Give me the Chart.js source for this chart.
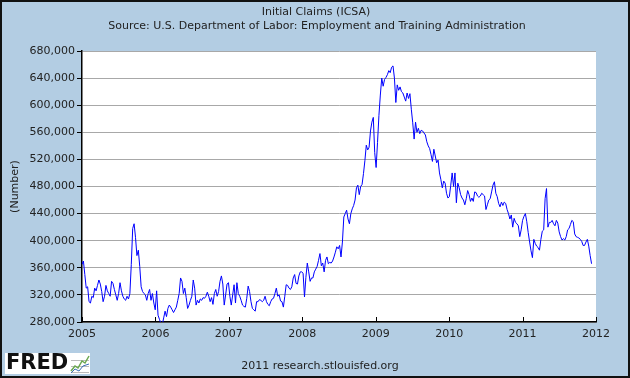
<!DOCTYPE html>
<html>
<head>
<meta charset="utf-8">
<script src="https://cdn.jsdelivr.net/npm/chart.js@4.4.0/dist/chart.umd.min.js"></script>
<style>
  html, body { margin: 0; padding: 0; background: #b3cde3; }
  #wrap { width: 630px; height: 378px; }
</style>
</head>
<body>
<div id="wrap"><canvas id="icsa-chart" width="630" height="378"></canvas></div>
<script>
// Initial claims, weekly (week ending Saturday), thousands
const firstWeek = '2005-01-01';

const claims2005 = [365, 370, 350, 330, 332, 310, 308, 318, 316, 330,
    326, 334, 342, 336, 325, 310, 318, 334, 326, 322,
    318, 340, 337, 328, 320, 312, 322, 338, 326, 318,
    314, 312, 318, 314, 322, 365, 418, 425, 405, 378,
    386, 362, 332, 325, 322, 320, 312, 322, 328, 312,
    322, 308, 298];
const claims2006 = [326, 290, 284, 278, 276, 286, 296, 288, 300, 305,
    302, 298, 294, 298, 302, 312, 322, 345, 340, 322,
    330, 316, 300, 305, 312, 318, 342, 330, 305, 312,
    308, 314, 312, 316, 315, 318, 324, 318, 310, 316,
    306, 322, 328, 318, 325, 340, 348, 336, 305, 320,
    336, 338];
const claims2007 = [318, 305, 320, 335, 308, 338, 322, 318, 312, 305,
    303, 302, 315, 333, 325, 310, 300, 298, 296, 310,
    310, 313, 312, 310, 312, 318, 310, 306, 304, 310,
    314, 315, 322, 330, 318, 320, 311, 310, 302, 318,
    335, 334, 330, 328, 332, 345, 350, 337, 336, 348,
    354, 354];
const claims2008 = [352, 317, 346, 367, 354, 340, 345, 345, 354, 358,
    362, 371, 381, 363, 367, 354, 371, 376, 366, 368,
    367, 370, 376, 383, 391, 388, 393, 376, 398, 435,
    440, 445, 432, 425, 440, 447, 452, 460, 478, 482,
    468, 480, 483, 499, 518, 541, 534, 538, 562, 575,
    582, 530];
const claims2009 = [508, 545, 585, 615, 640, 628, 638, 641, 645, 651,
    648, 656, 658, 640, 604, 630, 622, 627, 620, 618,
    612, 606, 618, 610, 617, 594, 574, 550, 575, 560,
    566, 558, 563, 562, 559, 556, 546, 540, 536, 527,
    517, 535, 525, 515, 519, 500, 490, 478, 488, 485,
    470, 463];
const claims2010 = [465, 482, 500, 480, 500, 456, 485, 478, 468, 463,
    460, 453, 462, 474, 468, 458, 463, 458, 472, 471,
    466, 464, 466, 470, 468, 466, 446, 453, 460, 462,
    472, 482, 487, 470, 465, 455, 450, 457, 452, 457,
    455, 446, 440, 432, 438, 420, 433, 427, 425, 422,
    406, 416];
const claims2011 = [430, 436, 440, 428, 412, 398, 385, 375, 402, 396,
    392, 390, 386, 402, 414, 416, 462, 477, 420, 427,
    427, 430, 425, 422, 430, 426, 413, 406, 401, 403,
    401, 406, 416, 418, 424, 430, 428, 410, 406, 405,
    404, 402, 399, 393, 393, 398, 402, 392, 378, 366];

const yearTicks = [2005, 2006, 2007, 2008, 2009, 2010, 2011, 2012];
const yTicks = [280000, 320000, 360000, 400000, 440000, 480000, 520000, 560000, 600000, 640000, 680000];

const titleText = 'Initial Claims (ICSA)';
const subtitleText = 'Source: U.S. Department of Labor: Employment and Training Administration';
const footerText = '2011 research.stlouisfed.org';
const bgBlue = '#b3cde3';
const fontName = '"DejaVu Sans", Verdana, sans-serif';

function toDecimalYear(d) {
    const y = d.getUTCFullYear();
    const start = Date.UTC(y, 0, 1);
    const end = Date.UTC(y + 1, 0, 1);
    return y + (d.getTime() - start) / (end - start);
}

function buildPoints() {
    const all = [].concat(claims2005, claims2006, claims2007, claims2008,
        claims2009, claims2010, claims2011);
    const start = new Date(firstWeek + 'T00:00:00Z').getTime();
    return all.map((v, i) => ({
        x: toDecimalYear(new Date(start + i * 7 * 86400000)),
        y: v * 1000,
    }));
}

function fmt(n) {
    return n.toString().replace(/\B(?=(\d{3})+(?!\d))/g, ',');
}

const fredFrame = {
    id: 'fredFrame',
    beforeDraw(chart) {
        const ctx = chart.ctx;
        const a = chart.chartArea;
        ctx.save();
        ctx.fillStyle = bgBlue;
        ctx.fillRect(0, 0, chart.width, chart.height);
        ctx.fillStyle = '#ffffff';
        ctx.fillRect(a.left, a.top, a.right - a.left, a.bottom - a.top);
        ctx.restore();
    },
    afterDraw(chart) {
        const ctx = chart.ctx;
        const a = chart.chartArea;
        const xs = chart.scales.x;
        ctx.save();

        // year ticks point into the plot
        ctx.strokeStyle = '#000';
        ctx.lineWidth = 1;
        yearTicks.forEach(t => {
            const px = Math.round(xs.getPixelForValue(t)) + 0.5;
            ctx.beginPath();
            ctx.moveTo(px, a.bottom);
            ctx.lineTo(px, a.bottom - 5);
            ctx.stroke();
        });

        // header
        ctx.fillStyle = '#222';
        ctx.textAlign = 'center';
        ctx.textBaseline = 'middle';
        ctx.font = '11px ' + fontName;
        ctx.fillText(titleText, 316, 12);
        ctx.fillText(subtitleText, 317, 26);

        // footer
        ctx.font = '11px ' + fontName;
        ctx.fillText(footerText, 320, 366);

        // FRED logo
        ctx.fillStyle = '#ffffff';
        ctx.fillRect(5, 353, 85, 21);
        ctx.fillStyle = '#111';
        ctx.textAlign = 'left';
        ctx.font = 'bold 21px "DejaVu Sans", sans-serif';
        ctx.fillText('FRED', 6, 364);
        ctx.strokeStyle = '#bbb';
        ctx.beginPath();
        ctx.moveTo(71, 372.5); ctx.lineTo(89, 372.5);
        ctx.moveTo(71, 366.5); ctx.lineTo(89, 366.5);
        ctx.moveTo(71, 360.5); ctx.lineTo(89, 360.5);
        ctx.stroke();
        ctx.strokeStyle = '#6aa84f';
        ctx.lineWidth = 1.5;
        ctx.beginPath();
        ctx.moveTo(71, 371); ctx.lineTo(75, 366); ctx.lineTo(78, 368);
        ctx.lineTo(82, 361); ctx.lineTo(85, 363); ctx.lineTo(89, 356);
        ctx.stroke();
        ctx.strokeStyle = '#3d6fb6';
        ctx.lineWidth = 1;
        ctx.beginPath();
        ctx.moveTo(71, 373); ctx.lineTo(75, 369); ctx.lineTo(79, 371);
        ctx.lineTo(83, 366); ctx.lineTo(89, 364);
        ctx.stroke();

        // outer frame
        ctx.strokeStyle = '#111';
        ctx.lineWidth = 2;
        ctx.strokeRect(1, 1, chart.width - 2, chart.height - 2);
        ctx.restore();
    }
};

const points = buildPoints();

const ctx = document.getElementById('icsa-chart').getContext('2d');
const icsaChart = new Chart(ctx, {
    type: 'line',
    data: {
        datasets: [{
            label: 'ICSA',
            data: points,
            borderColor: '#0000ff',
            borderWidth: 1,
            pointRadius: 0,
            tension: 0,
            fill: false,
        }],
    },
    options: {
        responsive: false,
        animation: false,
        devicePixelRatio: 1,
        parsing: false,
        layout: {
            padding: { top: 51, right: 34, bottom: 0, left: 0 },
        },
        scales: {
            x: {
                type: 'linear',
                min: 2005,
                max: 2012,
                afterBuildTicks: (scale) => {
                    scale.ticks = yearTicks.map(v => ({ value: v }));
                },
                afterFit: (scale) => { scale.height = 56; },
                grid: { display: false, drawTicks: false },
                border: { display: true, color: '#000', width: 1.5 },
                ticks: {
                    color: '#222',
                    font: { family: fontName, size: 11 },
                    padding: 6,
                    maxRotation: 0,
                    callback: (v) => String(v),
                },
            },
            y: {
                min: 280000,
                max: 680000,
                afterBuildTicks: (scale) => {
                    scale.ticks = yTicks.map(v => ({ value: v }));
                },
                afterFit: (scale) => { scale.width = 82; },
                grid: {
                    color: '#a8a8a8',
                    tickColor: '#000',
                    tickLength: 5,
                    lineWidth: 1,
                },
                border: { display: true, color: '#000', width: 1.5 },
                ticks: {
                    color: '#222',
                    font: { family: fontName, size: 11 },
                    padding: 2,
                    callback: (v) => fmt(v),
                },
                title: {
                    display: true,
                    text: '(Number)',
                    color: '#222',
                    font: { family: fontName, size: 11 },
                    padding: { top: 9, bottom: 0 },
                },
            },
        },
        plugins: {
            legend: { display: false },
            tooltip: { enabled: false },
        },
    },
    plugins: [fredFrame],
});
</script>
</body>
</html>
